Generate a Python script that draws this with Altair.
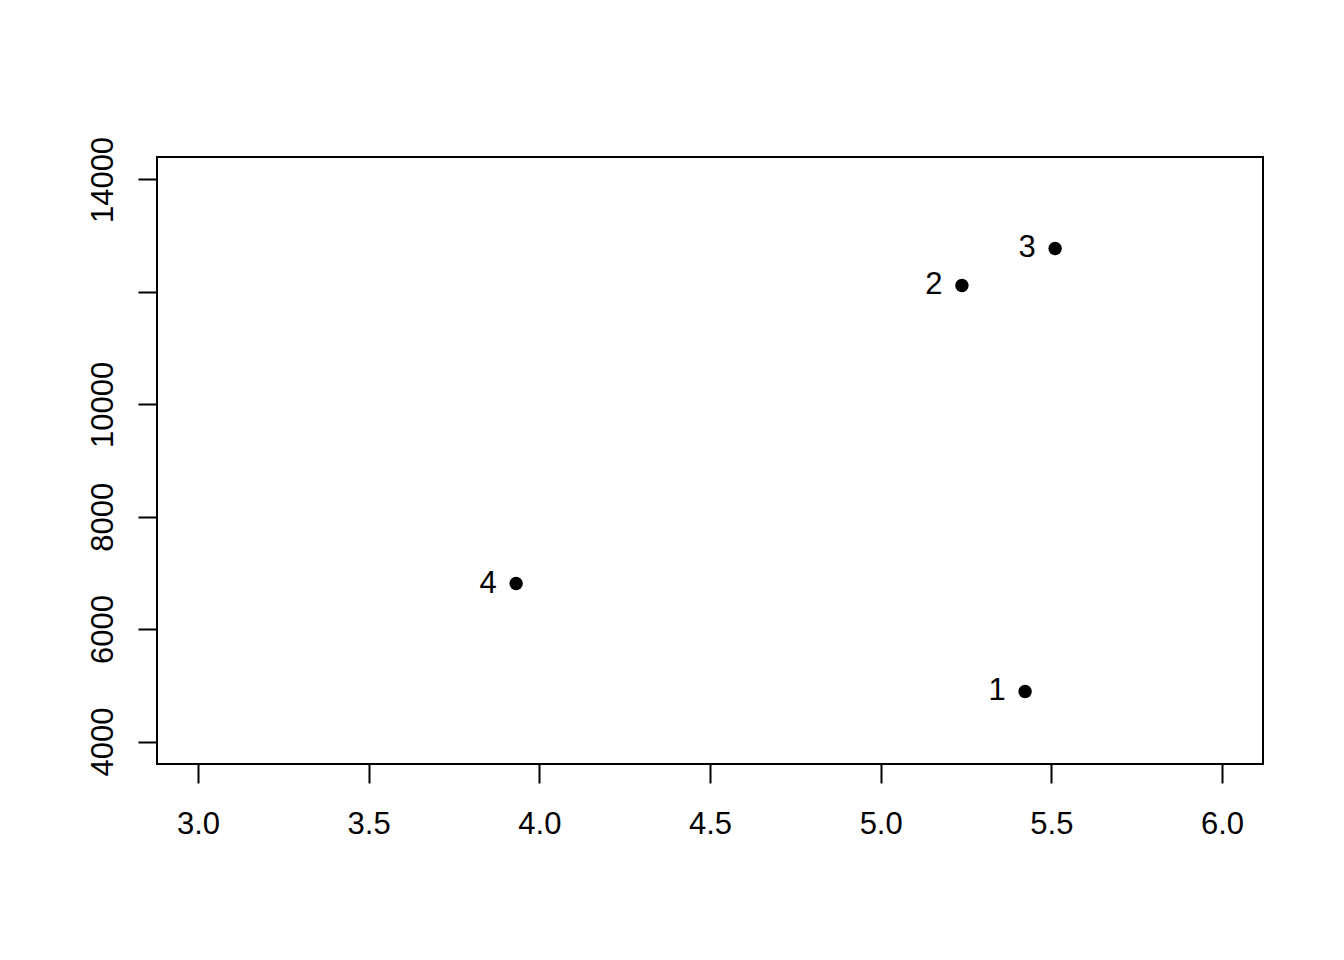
import altair as alt
import pandas as pd

xs = [5.423, 5.238, 5.511, 3.932]
ys = [4890, 12114, 12772, 6811]
labels = ["1", "2", "3", "4"]

df = pd.DataFrame({"x": xs, "y": ys, "label": labels})

FONT = "Liberation Sans"

xscale = alt.Scale(domain=[2.88, 6.12], nice=False, zero=False)
yscale = alt.Scale(domain=[3600, 14400], nice=False, zero=False)

xaxis = alt.Axis(
    values=[3.0, 3.5, 4.0, 4.5, 5.0, 5.5, 6.0], format=".1f", title=None,
    grid=False, domain=False, tickSize=19, tickColor="black", tickWidth=2,
    labelFont=FONT, labelFontSize=31, labelColor="black",
    labelBaseline="alphabetic", labelPadding=50, labelFlush=False, labelOverlap=False,
)
yaxis = alt.Axis(
    values=[4000, 6000, 8000, 10000, 12000, 14000], format="d", title=None,
    grid=False, domain=False, tickSize=19, tickColor="black", tickWidth=2,
    labelFont=FONT, labelFontSize=31, labelColor="black",
    labelAngle=270, labelAlign="center", labelBaseline="alphabetic", labelPadding=26,
    labelFlush=False, labelOverlap=False,
    labelExpr="datum.value == 12000 ? '' : datum.label",
)

base = alt.Chart(df)
points = base.mark_circle(size=180, color="black", opacity=1).encode(
    x=alt.X("x:Q", scale=xscale, axis=xaxis),
    y=alt.Y("y:Q", scale=yscale, axis=yaxis),
)
text = base.mark_text(
    font=FONT, fontSize=31, color="black", align="center", baseline="middle", dx=-28
).encode(
    x=alt.X("x:Q", scale=xscale),
    y=alt.Y("y:Q", scale=yscale),
    text="label:N",
)

chart = (points + text).properties(
    width=1106, height=607,
    background="white",
    autosize=alt.AutoSizeParams(type="none"),
    padding={"left": 149, "top": 149, "right": 73, "bottom": 188},
).configure_view(stroke="black", strokeWidth=2, strokeOpacity=1)

chart.save("out.html", embed_options={"renderer": "svg", "actions": False})
